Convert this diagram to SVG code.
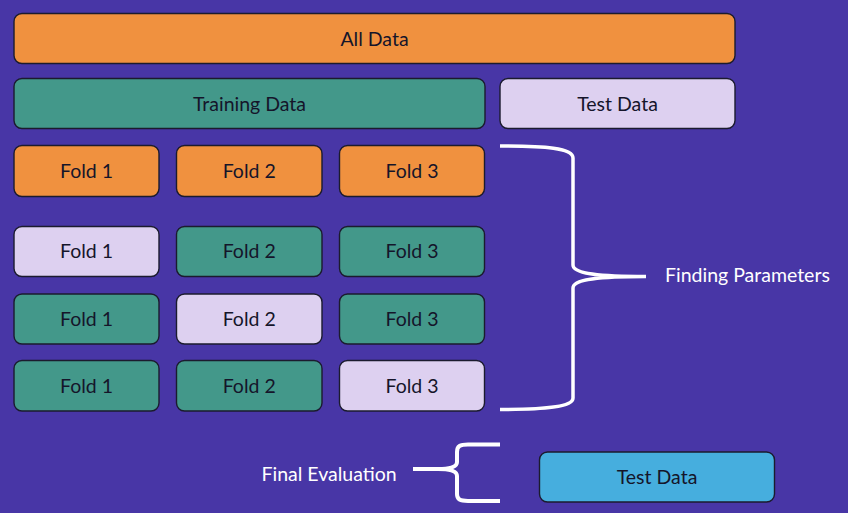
<svg xmlns="http://www.w3.org/2000/svg" width="848" height="513" viewBox="0 0 848 513">
<style>
.box{stroke:#1b1b2e;stroke-width:1.4}
.or{fill:#F0913F}.tl{fill:#43988A}.lv{fill:#DDD0F0}.bl{fill:#46AEDE}
.t{font-family:Lato,"Liberation Sans",sans-serif;font-size:19.5px;fill:#15152a;text-anchor:middle}
.w{font-family:Lato,"Liberation Sans",sans-serif;font-size:19.5px;fill:#ffffff}
.br{fill:none;stroke:#ffffff;stroke-linecap:butt;stroke-linejoin:round}
</style>
<rect x="0" y="0" width="848" height="513" fill="#4836A6"/>
<g id="all-data"><rect class="box or" x="14" y="13.5" width="721" height="50" rx="8"/><text class="t" x="374.5" y="45.5">All Data</text></g>
<g id="training-data"><rect class="box tl" x="14" y="78.5" width="471" height="50" rx="8"/><text class="t" x="249.5" y="110.5">Training Data</text></g>
<g id="test-data-top"><rect class="box lv" x="500" y="78.5" width="235" height="50" rx="8"/><text class="t" x="617.5" y="110.5">Test Data</text></g>
<g id="r1f1"><rect class="box or" x="14" y="145.5" width="145" height="51" rx="8"/><text class="t" x="86.5" y="177.5">Fold 1</text></g>
<g id="r1f2"><rect class="box or" x="176.5" y="145.5" width="145.5" height="51" rx="8"/><text class="t" x="249.2" y="177.5">Fold 2</text></g>
<g id="r1f3"><rect class="box or" x="339.5" y="145.5" width="145" height="51" rx="8"/><text class="t" x="412" y="177.5">Fold 3</text></g>
<g id="r2f1"><rect class="box lv" x="14" y="226.5" width="145" height="50" rx="8"/><text class="t" x="86.5" y="258">Fold 1</text></g>
<g id="r2f2"><rect class="box tl" x="176.5" y="226.5" width="145.5" height="50" rx="8"/><text class="t" x="249.2" y="258">Fold 2</text></g>
<g id="r2f3"><rect class="box tl" x="339.5" y="226.5" width="145" height="50" rx="8"/><text class="t" x="412" y="258">Fold 3</text></g>
<g id="r3f1"><rect class="box tl" x="14" y="294" width="145" height="50" rx="8"/><text class="t" x="86.5" y="325.7">Fold 1</text></g>
<g id="r3f2"><rect class="box lv" x="176.5" y="294" width="145.5" height="50" rx="8"/><text class="t" x="249.2" y="325.7">Fold 2</text></g>
<g id="r3f3"><rect class="box tl" x="339.5" y="294" width="145" height="50" rx="8"/><text class="t" x="412" y="325.7">Fold 3</text></g>
<g id="r4f1"><rect class="box tl" x="14" y="360.5" width="145" height="50.5" rx="8"/><text class="t" x="86.5" y="392.5">Fold 1</text></g>
<g id="r4f2"><rect class="box tl" x="176.5" y="360.5" width="145.5" height="50.5" rx="8"/><text class="t" x="249.2" y="392.5">Fold 2</text></g>
<g id="r4f3"><rect class="box lv" x="339.5" y="360.5" width="145" height="50.5" rx="8"/><text class="t" x="412" y="392.5">Fold 3</text></g>
<g id="test-data-bottom"><rect class="box bl" x="539.5" y="452" width="235" height="50" rx="8"/><text class="t" x="657" y="483.5">Test Data</text></g>
<g id="connectors">
<path class="br" stroke-width="3.5" d="M500,146 C545,146 573,148 573,158 L573,265 C573,273 595,276.5 646,276.5 M646,276.5 C595,276.5 573,280 573,288 L573,398 C573,407 545,409.5 500,409.5"/>
<path class="br" stroke-width="4" d="M500,444.5 L468,444.5 C460,444.5 457,446 457,452 L457,462 C457,467 450,469 438,469 L413,469 M438,469 C450,469 457,471 457,476 L457,494 C457,499.5 460,501 468,501 L500,501"/>
</g>
<text class="w" x="665" y="282">Finding Parameters</text>
<text class="w" x="261.5" y="480.7">Final Evaluation</text>
</svg>
